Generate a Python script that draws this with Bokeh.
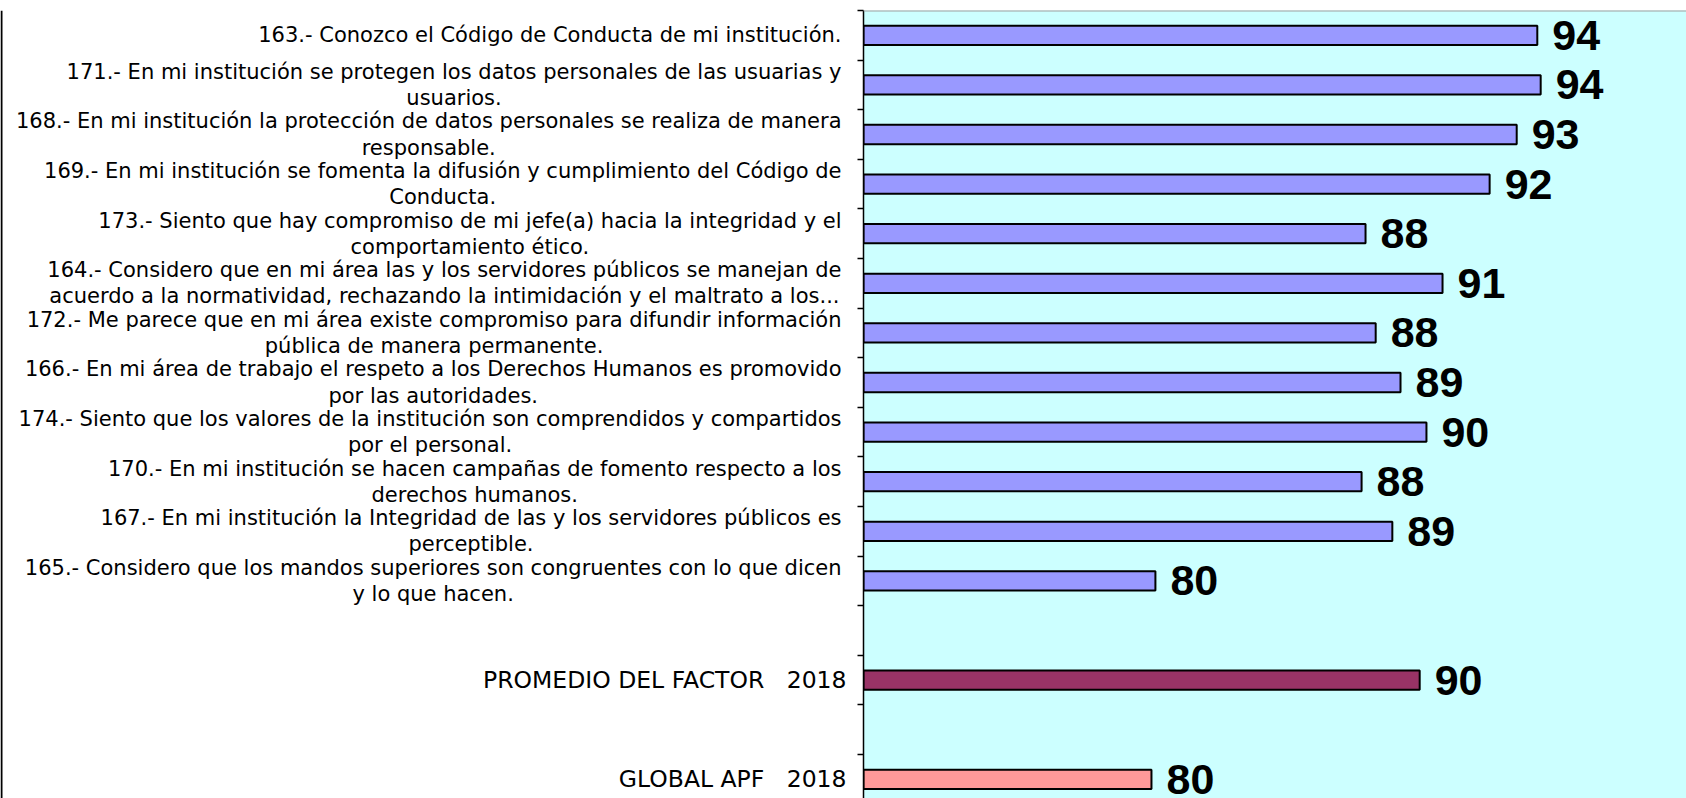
from bokeh.plotting import figure
from bokeh.models import Range1d, FixedTicker, Span
from bokeh.layouts import row
from bokeh.embed import file_html
from bokeh.resources import INLINE
from bokeh.core.properties import value

# ---------------- data ----------------
reactivos = [
    "163.- Conozco el Código de Conducta de mi institución.",
    "171.- En mi institución se protegen los datos personales de las usuarias y\nusuarios.",
    "168.- En mi institución la protección de datos personales se realiza de manera\nresponsable.",
    "169.- En mi institución se fomenta la difusión y cumplimiento del Código de\nConducta.",
    "173.- Siento que hay compromiso de mi jefe(a) hacia la integridad y el\ncomportamiento ético.",
    "164.- Considero que en mi área las y los servidores públicos se manejan de\nacuerdo a la normatividad, rechazando la intimidación y el maltrato a los...",
    "172.- Me parece que en mi área existe compromiso para difundir información\npública de manera permanente.",
    "166.- En mi área de trabajo el respeto a los Derechos Humanos es promovido\npor las autoridades.",
    "174.- Siento que los valores de la institución son comprendidos y compartidos\npor el personal.",
    "170.- En mi institución se hacen campañas de fomento respecto a los\nderechos humanos.",
    "167.- En mi institución la Integridad de las y los servidores públicos es\nperceptible.",
    "165.- Considero que los mandos superiores son congruentes con lo que dicen\ny lo que hacen.",
]
valores = [93.89, 94.01, 93.16, 92.20, 87.80, 90.53, 88.16, 89.04, 89.96, 87.66, 88.75, 80.35]

resumen_etiquetas = ["PROMEDIO DEL FACTOR\u00a0\u00a0 2018", "GLOBAL APF\u00a0\u00a0 2018"]
resumen_valores = [89.72, 80.21]
resumen_colores = ["#993366", "#FF9999"]
color_reactivo = "#9999FF"

eje_min = 70
eje_max = 99.18

# ---------------- layout helpers ----------------
n = len(reactivos)
filas_reactivos = list(range(n))
filas_resumen = [n + 1, n + 3]                 # a blank slot before each summary bar
filas = filas_reactivos + filas_resumen
vals = valores + resumen_valores
colores = [color_reactivo] * n + resumen_colores
textos_valor = [str(int(round(v))) for v in vals]

H = 798          # page height
TOP = 10         # frame top
SLOT = 49.6      # pixels per category slot
W_LEFT = 857
W_RIGHT = 1686 - W_LEFT - 6

yr = Range1d(start=-0.5 + (H - TOP) / SLOT, end=-0.5)

# ---------------- left: category labels ----------------
izq = figure(frame_width=W_LEFT, frame_height=H - TOP, x_range=Range1d(0, W_LEFT), y_range=yr,
             toolbar_location=None, output_backend="svg",
             min_border_top=TOP, min_border_bottom=0, min_border_left=0, min_border_right=0,
             x_axis_location=None, y_axis_location=None)
izq.outline_line_color = None
izq.grid.visible = False
izq.add_layout(Span(location=1, dimension="height", line_color="black", line_width=2))
izq.text(x=841, y=filas_reactivos, text=reactivos, anchor="center_right", text_align="center",
         text_font=value("DejaVu Sans"), text_font_size="21px", text_line_height=1.1,
         text_color="black")
izq.text(x=846, y=filas_resumen, text=resumen_etiquetas, anchor="center_right",
         text_align="right", text_font=value("DejaVu Sans"), text_font_size="23.5px",
         text_color="black")

# ---------------- right: bars ----------------
der = figure(frame_width=W_RIGHT, frame_height=H - TOP, x_range=Range1d(eje_min, eje_max),
             y_range=yr, toolbar_location=None, output_backend="svg",
             min_border_top=TOP, min_border_bottom=0, min_border_left=0, min_border_right=0,
             x_axis_location=None, background_fill_color="#CCFFFF")
der.outline_line_color = None
der.grid.visible = False
ax = der.yaxis[0]
ax.ticker = FixedTicker(ticks=[], minor_ticks=[i - 0.5 for i in range(17)])
ax.major_label_standoff = 0
ax.major_tick_line_color = None
ax.minor_tick_in = 0
ax.minor_tick_out = 6
ax.minor_tick_line_color = "black"
ax.minor_tick_line_width = 1.5
ax.axis_line_color = "black"
ax.axis_line_width = 1.5

der.add_layout(Span(location=-0.5, dimension="width", line_color="#a0a0a0", line_width=2))

der.hbar(y=filas, left=eje_min, right=vals, height=0.39, fill_color=colores,
         line_color="black", line_width=2)
der.text(x=vals, y=filas, text=textos_valor, x_offset=15, text_align="left",
         text_baseline="middle", text_font=value("Liberation Sans"), text_font_style="bold",
         text_font_size="43px", text_color="black")

page = row(izq, der)
open("out.html", "w").write(file_html(page, INLINE))
